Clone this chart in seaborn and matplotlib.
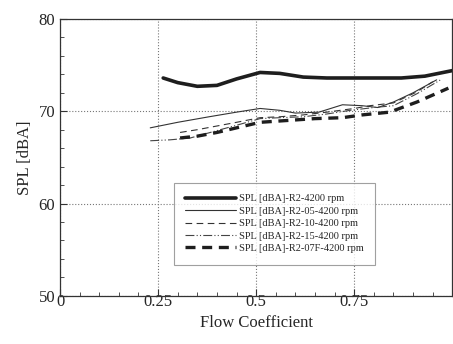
import matplotlib
matplotlib.use("Agg")
import matplotlib.pyplot as plt
import seaborn as sns
import numpy as np
import pandas as pd

# flow coefficient / SPL
x_r2 = [0.263, 0.30, 0.35, 0.40, 0.45, 0.51, 0.56, 0.62, 0.68, 0.75, 0.82, 0.87, 0.93, 1.0]
y_r2 = [73.6, 73.1, 72.7, 72.8, 73.5, 74.2, 74.1, 73.7, 73.6, 73.6, 73.6, 73.6, 73.8, 74.4]

x_r205 = [0.23, 0.30, 0.38, 0.45, 0.51, 0.56, 0.60, 0.66, 0.72, 0.77, 0.81, 0.85, 0.90, 0.96]
y_r205 = [68.2, 68.8, 69.4, 69.9, 70.3, 70.1, 69.8, 69.9, 70.7, 70.6, 70.4, 71.0, 72.0, 73.4]

x_r210 = [0.306, 0.35, 0.40, 0.45, 0.51, 0.56, 0.62, 0.68, 0.75, 0.79, 0.85, 0.91, 0.95]
y_r210 = [67.7, 68.0, 68.4, 68.8, 69.3, 69.4, 69.6, 69.9, 70.3, 70.6, 70.9, 72.1, 73.2]

x_r215 = [0.23, 0.28, 0.332, 0.40, 0.46, 0.51, 0.56, 0.62, 0.68, 0.74, 0.80, 0.85, 0.91, 0.97]
y_r215 = [66.8, 66.9, 67.1, 67.9, 68.6, 69.2, 69.3, 69.4, 69.7, 70.1, 70.4, 70.6, 71.9, 73.4]

x_r207f = [0.306, 0.35, 0.40, 0.45, 0.51, 0.58, 0.65, 0.72, 0.77, 0.84, 0.91, 0.99]
y_r207f = [67.1, 67.3, 67.7, 68.2, 68.8, 69.0, 69.2, 69.3, 69.6, 69.9, 71.0, 72.5]

labels = ["SPL [dBA]-R2-4200 rpm", "SPL [dBA]-R2-05-4200 rpm", "SPL [dBA]-R2-10-4200 rpm",
          "SPL [dBA]-R2-15-4200 rpm", "SPL [dBA]-R2-07F-4200 rpm"]

series = [(x_r2, y_r2), (x_r205, y_r205), (x_r210, y_r210), (x_r215, y_r215), (x_r207f, y_r207f)]
styles = [
    dict(lw=2.6, ls="-", color="#1e1e1e"),
    dict(lw=0.8, ls="-", color="#333333"),
    dict(lw=0.8, ls=(0, (6, 4)), color="#333333"),
    dict(lw=0.8, ls=(0, (8, 2, 1, 2, 1, 2)), color="#444444"),
    dict(lw=2.4, ls=(0, (3, 2)), color="#1e1e1e"),
]

sns.set_style("ticks")
plt.rcParams["font.family"] = ["Liberation Serif", "DejaVu Serif"]

fig = plt.figure(figsize=(4.53, 3.44), dpi=100, facecolor="white")
ax = fig.add_axes([0.1325, 0.14, 0.866, 0.805])

for (xs, ys), lab, st in zip(series, labels, styles):
    df = pd.DataFrame({"x": xs, "y": ys})
    sns.lineplot(data=df, x="x", y="y", ax=ax, label=lab, sort=False,
                 color=st["color"], linewidth=st["lw"], linestyle=st["ls"])

ax.set_xlim(0, 1.0)
ax.set_ylim(50, 80)
ax.set_xticks([0, 0.25, 0.5, 0.75])
ax.set_xticklabels(["0", "0.25", "0.5", "0.75"])
ax.set_yticks([50, 60, 70, 80])
ax.set_xticks(np.arange(0, 1.0, 0.05), minor=True)
ax.set_yticks(np.arange(50, 80, 2), minor=True)
ax.tick_params(direction="in", which="both", labelsize=12, color="#333333")
ax.tick_params(which="major", length=5)
ax.tick_params(which="minor", length=3)
ax.tick_params(axis="x", pad=-1)
for s in ax.spines.values():
    s.set_color("#333333")
    s.set_linewidth(0.9)
ax.grid(True, which="major", ls=":", lw=0.8, color="#777777")
ax.set_xlabel("Flow Coefficient", fontsize=12, labelpad=3)
ax.set_ylabel("SPL [dBA]", fontsize=12)

leg = ax.legend(loc="lower left", bbox_to_anchor=(0.276, 0.094), fontsize=7.5,
                handlelength=4.9, frameon=True, fancybox=False,
                borderpad=1.1, labelspacing=0.3, handletextpad=0.3)
leg.get_frame().set_edgecolor("#888888")
leg.get_frame().set_linewidth(0.8)

fig.savefig("out.png", dpi=100, facecolor="white")
